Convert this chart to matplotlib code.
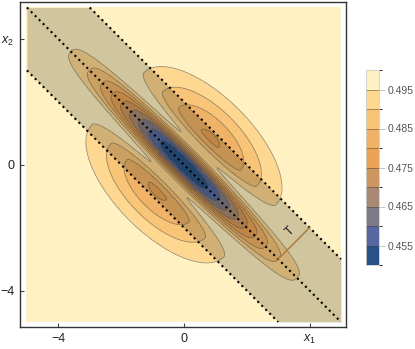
import numpy as np
import matplotlib.pyplot as plt
from matplotlib.colors import ListedColormap, BoundaryNorm

plt.rcParams['font.family'] = ['Liberation Sans', 'DejaVu Sans']
plt.rcParams['mathtext.fontset'] = 'custom'
plt.rcParams['mathtext.it'] = 'Liberation Sans:italic'
plt.rcParams['mathtext.rm'] = 'Liberation Sans'

# contour levels and band colours (bottom -> top)
levels = [0.45, 0.455, 0.46, 0.465, 0.47, 0.475, 0.48, 0.485, 0.49, 0.495, 0.5]
band_colors = ['#275287', '#56689f', '#7f7a87', '#a88a74', '#cd955f',
               '#eba455', '#f0b266', '#f8c578', '#fed791', '#fff1c1']
cbar_ticks = [0.455, 0.465, 0.475, 0.485, 0.495]
x_ticks = [-4, 0, 4]
x_ticklabels = ['\u22124', '0', '$x_1$']
y_ticks = [-4, 0, 4]
y_ticklabels = ['\u22124', '0', '$x_2$']

# surface: central trough along x1+x2=0 plus two side lobes
centre_depth, centre_len, centre_wid = 0.0495, 3.36, 0.45
side_depth, side_len, side_off = 0.0205, 2.5, 1.17
side_in, side_out = 0.38, 1.1

# tube |x1+x2| <= 2 and the width marker T
tube_lines = [-2, 0, 2]
t_start = [3, -3]
t_end = [4, -2]

g = np.linspace(-5, 5, 501)
X1, X2 = np.meshgrid(g, g)
U = (X1 - X2) / np.sqrt(2)
V = (X1 + X2) / np.sqrt(2)
av = np.abs(V)
w = np.where(av < side_off, side_in, side_out)
Z = 0.5 - centre_depth * np.exp(-(U / centre_len) ** 2 - (av / centre_wid) ** 3) \
    - side_depth * np.exp(-(U / side_len) ** 2 - ((av - side_off) / w) ** 2)

fig = plt.figure(figsize=(4.15, 3.49), dpi=100)
ax = fig.add_axes([20 / 415, 22 / 349, 326 / 415, 325.5 / 349])
cmap = ListedColormap(band_colors)
norm = BoundaryNorm(levels, cmap.N)
cf = ax.contourf(X1, X2, Z, levels=levels, cmap=cmap, norm=norm)
cs = ax.contour(X1, X2, Z, levels=levels[1:-1], colors='#4a3b2a', linewidths=0.6, alpha=0.55)

# shaded tube
xs = np.linspace(-5, 5, 400)
lo = np.clip(min(tube_lines) - xs, -5, 5)
hi = np.clip(max(tube_lines) - xs, -5, 5)
ax.fill_between(xs, lo, hi, color='#0a0800', alpha=0.19, lw=0)

for c in tube_lines:
    xx = np.linspace(max(-5, c - 5), min(5, c + 5), 50)
    ax.plot(xx, c - xx, color='black', lw=1.5, ls=(0, (1, 1.7)))

ax.plot([t_start[0], t_end[0]], [t_start[1], t_end[1]], color='#b27a45', lw=1.1)
ax.text(3.38, -2.12, 'T', rotation=45, fontsize=8.5, ha='center', va='center', color='#222222')

ax.set_xlim(-5.22, 5.16)
ax.set_ylim(-5.16, 5.19)
ax.set_xticks(x_ticks)
ax.set_xticklabels(x_ticklabels)
ax.set_yticks(y_ticks)
ax.set_yticklabels(y_ticklabels)
ax.tick_params(direction='in', length=3, width=0.8, color='#444444', labelsize=9,
               labelcolor='#222222', pad=4)
for s in ax.spines.values():
    s.set_color('#333333')
    s.set_linewidth(1.0)

cax = fig.add_axes([366 / 415, 84 / 349, 13 / 415, 195 / 349])
cb = fig.colorbar(cf, cax=cax, ticks=cbar_ticks)
cb.add_lines(cs)
cb.outline.set_edgecolor('#cccccc')
cb.outline.set_linewidth(0.6)
cb.ax.tick_params(length=4, width=0.6, color='#bbbbbb', labelsize=7.5, labelcolor='#555555', pad=2)
cb.ax.set_yticklabels([f'{t:.3f}' for t in cbar_ticks])

fig.savefig('out.png', dpi=100)
